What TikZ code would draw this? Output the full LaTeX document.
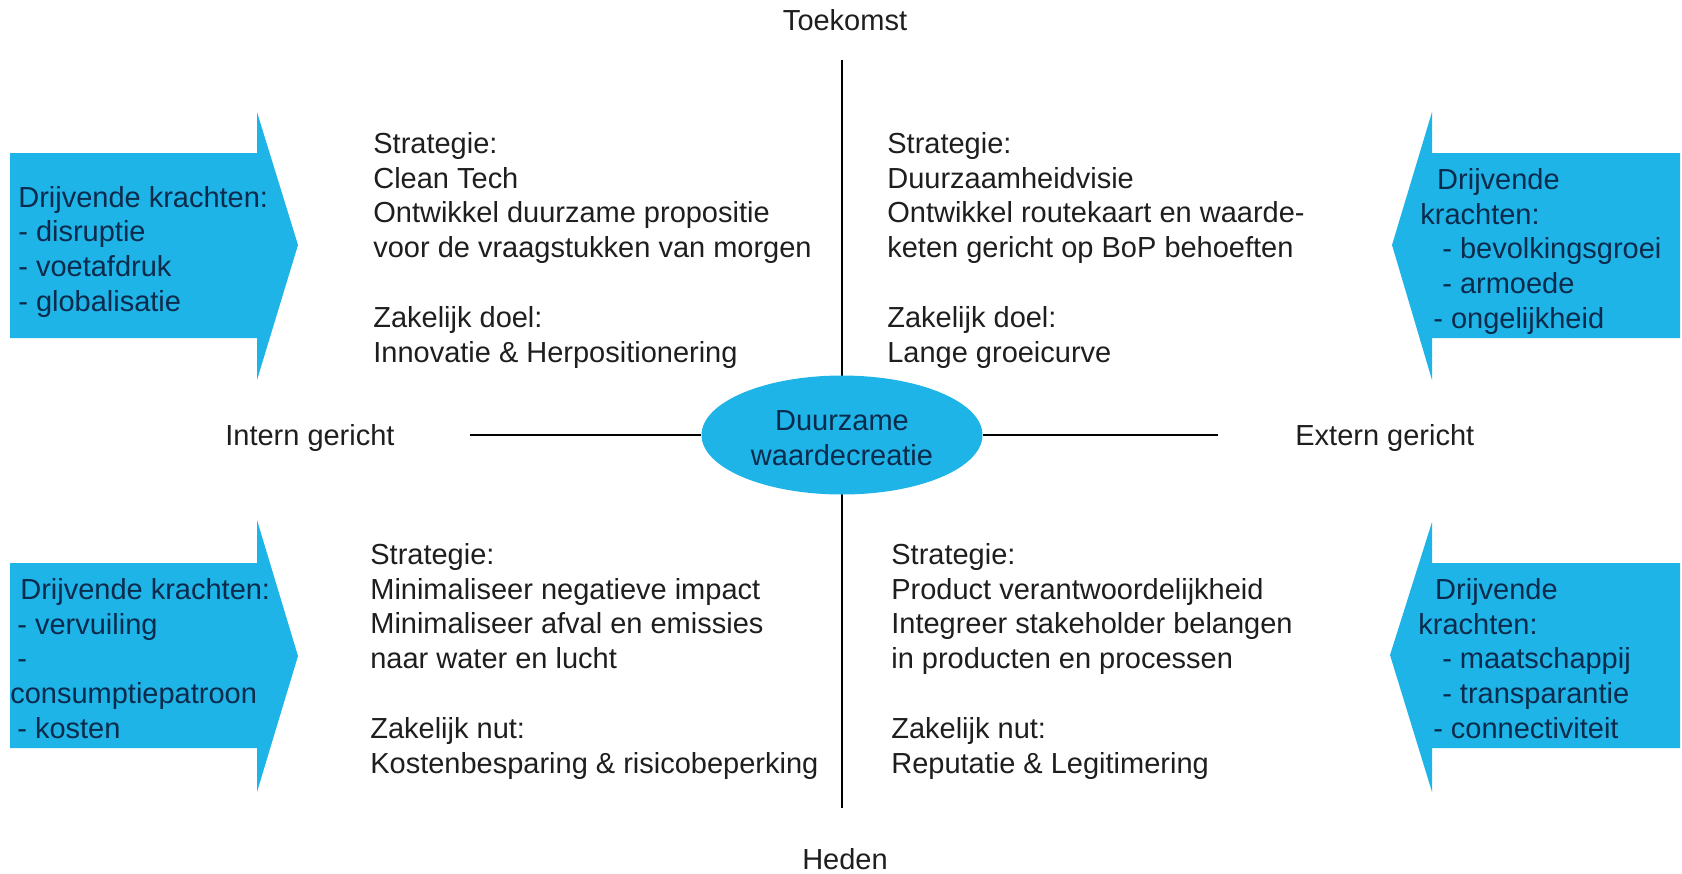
\documentclass[tikz,border=0pt]{standalone}
\usepackage{fontspec}
\setmainfont{Liberation Sans}
\usetikzlibrary{shapes.geometric}
\definecolor{kracht}{HTML}{1FB4E8}
\definecolor{donker}{HTML}{0B2B4C}
\definecolor{tekstgrijs}{HTML}{1E1E1E}
\begin{document}
\begin{tikzpicture}[x=0.02cm,y=-0.02cm,
  txt/.style={font=\fontsize{16.5}{19.8}\selectfont, inner sep=0pt, text=tekstgrijs},
  blok/.style={txt, align=left, anchor=base west},
  pijltxt/.style={blok, text=donker, font=\fontsize{16.5}{19.67}\selectfont},
  pijl/.style={fill=kracht},
  as/.style={line width=1.6pt, black}]
\useasboundingbox (0,0) rectangle (1682,873);

% pijlen
\fill[pijl] (10,153) -- (257,153) -- (257,112) -- (298,245) -- (257,380) -- (257,338) -- (10,338) -- cycle;
\fill[pijl] (10,563) -- (257,563) -- (257,520) -- (298,656) -- (257,792) -- (257,748) -- (10,748) -- cycle;
\fill[pijl] (1680,153) -- (1432,153) -- (1432,112) -- (1392,245) -- (1432,380) -- (1432,338) -- (1680,338) -- cycle;
\fill[pijl] (1680,563) -- (1432,563) -- (1432,522) -- (1390,655) -- (1432,792) -- (1432,748) -- (1680,748) -- cycle;

% assen
\node[txt, anchor=base] (toek) at (845,30) {Toekomst};
\node[txt, anchor=base] (heden) at (845,869) {Heden};
\node[txt, anchor=base west] (intern) at (225,445) {Intern gericht};
\node[txt, anchor=base west] (extern) at (1295,445) {Extern gericht};
\coordinate (boven) at (842,60);
\coordinate (onder) at (842,808);
\coordinate (links) at (470,435);
\coordinate (rechts) at (1218,435);
\draw[as] (boven) -- (onder);
\node[ellipse, fill=kracht, minimum width=5.62cm, minimum height=2.38cm, inner sep=0pt,
  font=\fontsize{16.5}{19.67}\selectfont, text=donker, align=center] (kern) at (842,435)
  {\rule{0pt}{15pt}Duurzame\\waardecreatie};
\draw[as] (links) -- (kern.west);
\draw[as] (kern.east) -- (rechts);

% kwadranten (anker = laatste regel)
\node[blok] (lb) at (373,362) {Strategie:\\Clean Tech\\Ontwikkel duurzame propositie\\voor de vraagstukken van morgen\\[19.8pt]Zakelijk doel:\\Innovatie \& Herpositionering};
\node[blok] (rb) at (887,362) {Strategie:\\Duurzaamheidvisie\\Ontwikkel routekaart en waarde-\\keten gericht op BoP behoeften\\[19.8pt]Zakelijk doel:\\Lange groeicurve};
\node[blok] (lo) at (370,773) {Strategie:\\Minimaliseer negatieve impact\\Minimaliseer afval en emissies\\naar water en lucht\\[19.8pt]Zakelijk nut:\\Kostenbesparing \& risicobeperking};
\node[blok] (ro) at (891,773) {Strategie:\\Product verantwoordelijkheid\\Integreer stakeholder belangen\\in producten en processen\\[19.8pt]Zakelijk nut:\\Reputatie \& Legitimering};

% drijvende krachten
\node[pijltxt] (klb) at (18,311) {Drijvende krachten:\\- disruptie\\- voetafdruk\\- globalisatie};
\node[pijltxt] (klo) at (10,738) {\hspace*{5.7pt}Drijvende krachten:\\\hspace*{4pt}- vervuiling\\\hspace*{4pt}-\\consumptiepatroon\\\hspace*{4pt}- kosten};
\node[pijltxt] (krb) at (1420,328) {\hspace*{9.6pt}Drijvende\\krachten:\\\hspace*{12.5pt}- bevolkingsgroei\\\hspace*{12.5pt}- armoede\\\hspace*{7.4pt}- ongelijkheid};
\node[pijltxt] (kro) at (1418,738) {\hspace*{9.6pt}Drijvende\\krachten:\\\hspace*{13.6pt}- maatschappij\\\hspace*{13.6pt}- transparantie\\\hspace*{8.5pt}- connectiviteit};
\end{tikzpicture}
\end{document}
